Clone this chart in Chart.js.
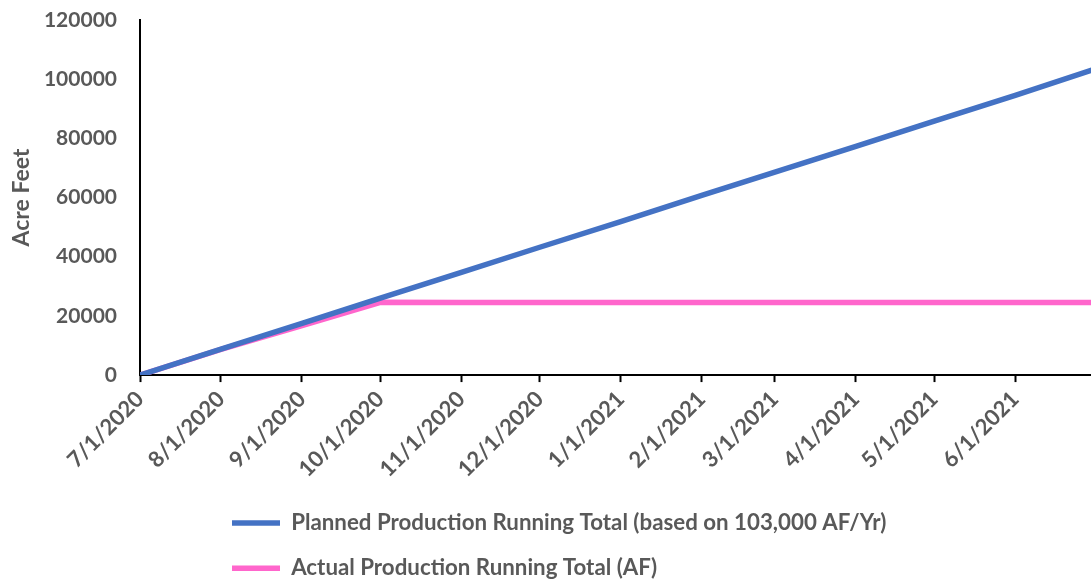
<!DOCTYPE html>
<html><head><meta charset="utf-8">
<script src="https://cdn.jsdelivr.net/npm/chart.js@4"></script>
<style>html,body{margin:0;padding:0;background:#fff;overflow:hidden}#wrap{width:1091px;height:587px;position:relative}</style>
</head><body><div id="wrap"><canvas id="c"></canvas></div>
<script>
// ---- data ----
const pointDates = ['7/1/2020','8/1/2020','9/1/2020','10/1/2020','11/1/2020','12/1/2020','1/1/2021','2/1/2021','3/1/2021','4/1/2021','5/1/2021','6/1/2021','6/30/2021'];
const plannedValues = [0, 8750, 17500, 26000, 34700, 43200, 51900, 60700, 68600, 77300, 85800, 94500, 103000];
const actualValues  = [0, 8700, 16700, 24600, 24500, 24500, 24500, 24500, 24500, 24500, 24500, 24500, 24500];
const xTickLabels = ['7/1/2020','8/1/2020','9/1/2020','10/1/2020','11/1/2020','12/1/2020','1/1/2021','2/1/2021','3/1/2021','4/1/2021','5/1/2021','6/1/2021'];
const seriesNames = ['Planned Production Running Total (based on 103,000 AF/Yr)', 'Actual Production Running Total (AF)'];
const yAxisTitle = 'Acre Feet';
const yMin = 0, yMax = 120000, yStep = 20000;

function dayIndex(s){
  const [m,d,y] = s.split('/').map(Number);
  const [m0,d0,y0] = pointDates[0].split('/').map(Number);
  return Math.round((Date.UTC(y,m-1,d) - Date.UTC(y0,m0-1,d0)) / 86400000);
}
const toPoints = vals => pointDates.map((d,i)=>({x: dayIndex(d), y: vals[i]}));

const FONT = 'Lato';
const GRAY = '#595959';
const LEGEND_FONT = 22.3;

const legendPos = {
  id: 'legendPos',
  afterLayout(chart){
    const lg = chart.legend;
    const pad = lg.options.labels.padding;
    const dx = 232 - (lg.left + pad);
    lg.left += dx; lg.right += dx;
    const dy = (523 - LEGEND_FONT / 2 - pad) - lg.top;
    lg.top += dy;
    lg.bottom = chart.height;
    lg.height = lg.bottom - lg.top;
  }
};

new Chart(document.getElementById('c'), {
  type: 'line',
  data: {
    datasets: [
      { label: seriesNames[0], data: toPoints(plannedValues), borderColor: '#4472C4', backgroundColor: '#4472C4', borderWidth: 5.5, pointRadius: 0, tension: 0, borderCapStyle: 'round' },
      { label: seriesNames[1], data: toPoints(actualValues), borderColor: '#FF66CC', backgroundColor: '#FF66CC', borderWidth: 5.5, pointRadius: 0, tension: 0, borderCapStyle: 'round' }
    ]
  },
  options: {
    responsive: true, maintainAspectRatio: false, animation: false,
    layout: { padding: { left: 8, top: 0, right: 0, bottom: 0 } },
    plugins: {
      tooltip: { enabled: false },
      legend: {
        position: 'bottom', align: 'start', fullSize: false,
        labels: { usePointStyle: true, pointStyle: 'line', pointStyleWidth: 48, boxHeight: 6, padding: 23, color: GRAY,
          font: { family: FONT, size: LEGEND_FONT, weight: 'bold' } }
      }
    },
    scales: {
      x: {
        type: 'linear', min: dayIndex(pointDates[0]), max: dayIndex(pointDates[pointDates.length-1]),
        afterBuildTicks: s => { s.ticks = xTickLabels.map(l => ({ value: dayIndex(l) })); },
        grid: { display: true, drawOnChartArea: false, drawTicks: true, tickLength: 7, tickWidth: 2, tickColor: '#000' },
        border: { display: true, color: '#000', width: 2 },
        ticks: { autoSkip: false, maxRotation: 45, minRotation: 45, padding: 4, color: GRAY, font: { family: FONT, size: 22, weight: 'bold' },
          callback: (v, i) => xTickLabels[i] }
      },
      y: {
        min: yMin, max: yMax,
        afterFit: s => { s.width = 132; s.paddingTop = 20; },
        grid: { display: false },
        border: { display: true, color: '#000', width: 2 },
        ticks: { stepSize: yStep, padding: 15, color: GRAY, font: { family: FONT, size: 21, weight: 'bold' }, callback: v => String(v) },
        title: { display: true, text: yAxisTitle, color: GRAY, font: { family: FONT, size: 23, weight: 'bold' }, padding: { top: 0, bottom: 0 } }
      }
    }
  },
  plugins: [legendPos]
});
</script></body></html>
